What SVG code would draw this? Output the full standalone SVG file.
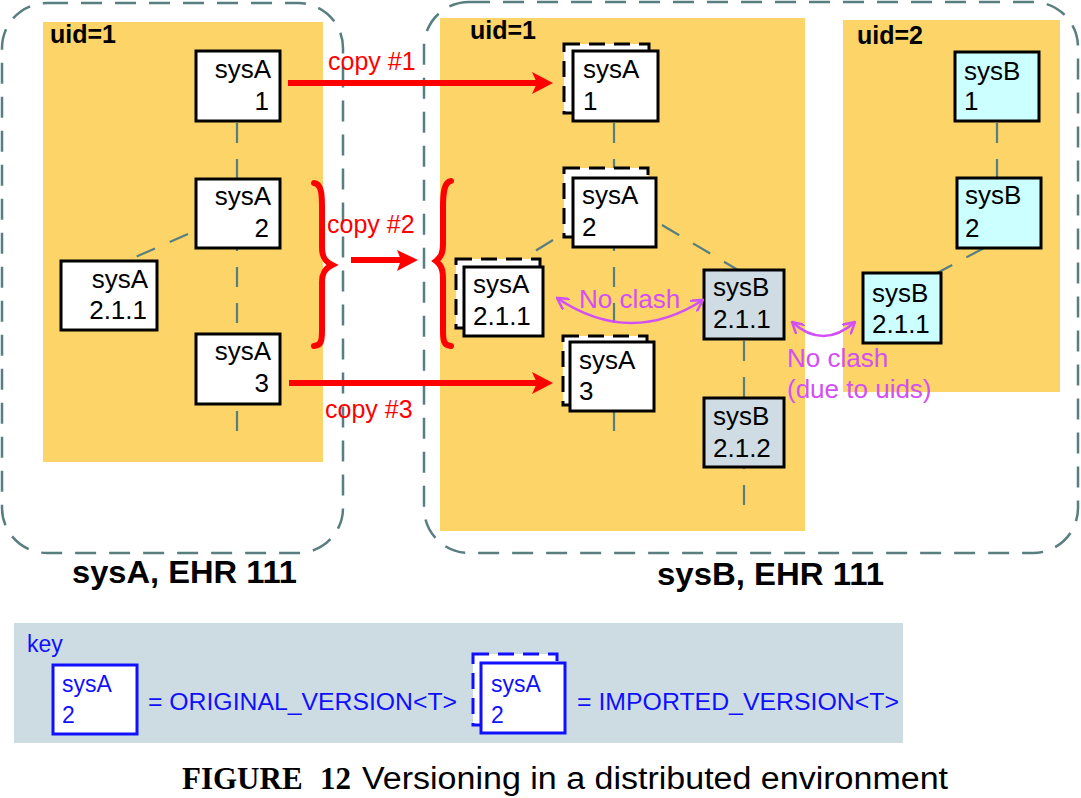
<svg xmlns="http://www.w3.org/2000/svg" width="1081" height="798" viewBox="0 0 1081 798">
<style>
text{font-family:"Liberation Sans",Arial,sans-serif}
.outer{fill:none;stroke:#587e80;stroke-width:2.5;stroke-dasharray:21 13}
.zone{fill:#fcd467}
.conn{fill:none;stroke:#587e80;stroke-width:2.2;stroke-dasharray:20 16}
.node{fill:#fff;stroke:#000;stroke-width:3}
.back{fill:#fff;stroke:#000;stroke-width:3;stroke-dasharray:16 9}
.grey{fill:#cfdce3;stroke:#000;stroke-width:3}
.cyan{fill:#ccffff;stroke:#000;stroke-width:3}
.nt{font-size:26px;fill:#000}
.red{font-size:25px;fill:#ff0000}
.mag{font-size:26px;fill:#d24ff5}
.uid{font-size:25px;font-weight:bold;fill:#000}
.big{font-size:31px;font-weight:bold;fill:#000}
.kt{font-size:23px;fill:#1010ff}
.kn{fill:#fff;stroke:#1010ff;stroke-width:3}
.kb{fill:#fff;stroke:#1010ff;stroke-width:3;stroke-dasharray:16 9}
.rl{stroke:#ff0000;stroke-width:6;fill:none}
.brace{stroke:#ff0000;stroke-width:6;fill:none;stroke-linecap:round}
.arc{fill:none;stroke:#d24ff5;stroke-width:2.5}
.cap{font-family:"Liberation Serif","Times New Roman",serif;font-weight:bold;font-size:31px;fill:#000}
</style>
<defs>
<marker id="chev" viewBox="0 0 10 10" refX="9" refY="5" markerWidth="13" markerHeight="13" markerUnits="userSpaceOnUse" orient="auto-start-reverse">
<path d="M0,0 L9,5 L0,10" fill="none" stroke="#d24ff5" stroke-width="1.9"/>
</marker>
</defs>
<rect width="1081" height="798" fill="#fff"/>

<g id="sysA-ehr">
<rect class="outer" x="2" y="3" width="341" height="550" rx="45"/>
<rect class="zone" x="43" y="22" width="280" height="440"/>
<text class="uid" x="50" y="43">uid=1</text>
<text class="big" x="72" y="583" textLength="225" lengthAdjust="spacingAndGlyphs">sysA, EHR 111</text>
</g>
<g id="sysB-ehr">
<rect class="outer" x="424" y="2" width="654" height="551" rx="45"/>
<rect class="zone" x="440" y="18" width="365" height="513"/>
<rect class="zone" x="843" y="20" width="217" height="372"/>
<text class="uid" x="470" y="39">uid=1</text>
<text class="uid" x="857" y="44">uid=2</text>
<text class="big" x="657" y="585" textLength="227" lengthAdjust="spacingAndGlyphs">sysB, EHR 111</text>
</g>

<g id="connectors">
<path class="conn" d="M237,123 V442"/>
<path class="conn" d="M188,234 L133,258"/>
<path class="conn" d="M614,123 V447"/>
<path class="conn" d="M662,225 L738,270"/>
<path class="conn" d="M553,240 L527,256"/>
<path class="conn" d="M744,341 V505"/>
<path class="conn" d="M997,123 V178"/>
<path class="conn" d="M984,248 L937,273"/>
</g>

<g id="a1"><rect class="node" x="196" y="51" width="84" height="70"/><text class="nt" x="271" y="78" text-anchor="end">sysA</text><text class="nt" x="269" y="110" text-anchor="end">1</text></g>
<g id="a2"><rect class="node" x="196" y="179" width="84" height="69"/><text class="nt" x="271" y="205" text-anchor="end">sysA</text><text class="nt" x="269" y="237" text-anchor="end">2</text></g>
<g id="a211"><rect class="node" x="61" y="261" width="96" height="69"/><text class="nt" x="148" y="288" text-anchor="end">sysA</text><text class="nt" x="147" y="319" text-anchor="end">2.1.1</text></g>
<g id="a3"><rect class="node" x="196" y="334" width="84" height="70"/><text class="nt" x="271" y="360" text-anchor="end">sysA</text><text class="nt" x="269" y="392" text-anchor="end">3</text></g>

<g id="ia1"><rect class="back" x="564" y="44" width="85" height="69"/><rect class="node" x="573" y="51" width="85" height="70"/><text class="nt" x="583" y="78">sysA</text><text class="nt" x="583" y="110">1</text></g>
<g id="ia2"><rect class="back" x="564" y="168" width="84" height="69"/><rect class="node" x="573" y="178" width="83" height="69"/><text class="nt" x="582" y="204">sysA</text><text class="nt" x="582" y="236">2</text></g>
<g id="ia211"><rect class="back" x="456" y="259" width="84" height="69"/><rect class="node" x="464" y="267" width="79" height="69"/><text class="nt" x="473" y="293">sysA</text><text class="nt" x="473" y="325">2.1.1</text></g>
<g id="ia3"><rect class="back" x="563" y="336" width="84" height="69"/><rect class="node" x="570" y="342" width="84" height="69"/><text class="nt" x="579" y="369">sysA</text><text class="nt" x="579" y="400">3</text></g>

<g id="b211"><rect class="grey" x="704" y="270" width="80" height="69"/><text class="nt" x="713" y="296">sysB</text><text class="nt" x="713" y="328">2.1.1</text></g>
<g id="b212"><rect class="grey" x="704" y="398" width="80" height="69"/><text class="nt" x="713" y="425">sysB</text><text class="nt" x="713" y="457">2.1.2</text></g>

<g id="u2b1"><rect class="cyan" x="955" y="52" width="84" height="69"/><text class="nt" x="964" y="80">sysB</text><text class="nt" x="964" y="110">1</text></g>
<g id="u2b2"><rect class="cyan" x="957" y="178" width="84" height="70"/><text class="nt" x="965" y="204">sysB</text><text class="nt" x="965" y="237">2</text></g>
<g id="u2b211"><rect class="cyan" x="863" y="273" width="78" height="70"/><text class="nt" x="872" y="302">sysB</text><text class="nt" x="872" y="333">2.1.1</text></g>

<g id="copies">
<path class="rl" d="M288,83 H537"/>
<polygon points="553,83 532,72 537,83 532,94" fill="#ff0000"/>
<text class="red" x="328" y="70">copy #1</text>
<path class="rl" d="M351,260 H402"/>
<polygon points="418,260 397,250 401,260 397,271" fill="#ff0000"/>
<text class="red" x="327" y="233">copy #2</text>
<path class="rl" d="M289,383 H537"/>
<polygon points="553,383 532,372 537,383 532,394" fill="#ff0000"/>
<text class="red" x="325" y="418">copy #3</text>
<path class="brace" d="M314,183 C322,184 322,195 322,210 L322,248 C322,258 326,262 332,265 C326,268 322,272 322,282 L322,330 C322,342 321,345 314,346"/>
<path class="brace" d="M451,181 C444,182 443,193 443,207 L443,244 C443,253 441,257 436,261 C441,265 443,269 443,279 L443,330 C443,342 444,345 451,346"/>
</g>

<g id="clashes">
<path class="arc" d="M557,298 Q630,347 703,300" marker-start="url(#chev)" marker-end="url(#chev)"/>
<text class="mag" x="579" y="308">No clash</text>
<path class="arc" d="M792,322 Q823,350 855,322" marker-start="url(#chev)" marker-end="url(#chev)"/>
<text class="mag" x="787" y="367">No clash</text>
<text class="mag" x="787" y="398">(due to uids)</text>
</g>

<g id="key">
<rect x="14" y="623" width="889" height="120" fill="#cddce3"/>
<text class="kt" x="27" y="652">key</text>
<rect class="kn" x="53" y="665" width="84" height="69"/>
<text class="kt" x="62" y="692">sysA</text>
<text class="kt" x="62" y="723">2</text>
<text class="kt" x="148" y="710" textLength="309" lengthAdjust="spacingAndGlyphs">= ORIGINAL_VERSION&lt;T&gt;</text>
<rect class="kb" x="473" y="654" width="84" height="71"/>
<rect class="kn" x="481" y="663" width="84" height="70"/>
<text class="kt" x="491" y="692">sysA</text>
<text class="kt" x="491" y="723">2</text>
<text class="kt" x="577" y="710" textLength="322" lengthAdjust="spacingAndGlyphs">= IMPORTED_VERSION&lt;T&gt;</text>
</g>

<g id="caption">
<text class="cap" x="182" y="789">FIGURE</text>
<text class="cap" x="320" y="789">12</text>
<text x="362" y="789" font-size="31" textLength="586" lengthAdjust="spacingAndGlyphs">Versioning in a distributed environment</text>
</g>
</svg>
